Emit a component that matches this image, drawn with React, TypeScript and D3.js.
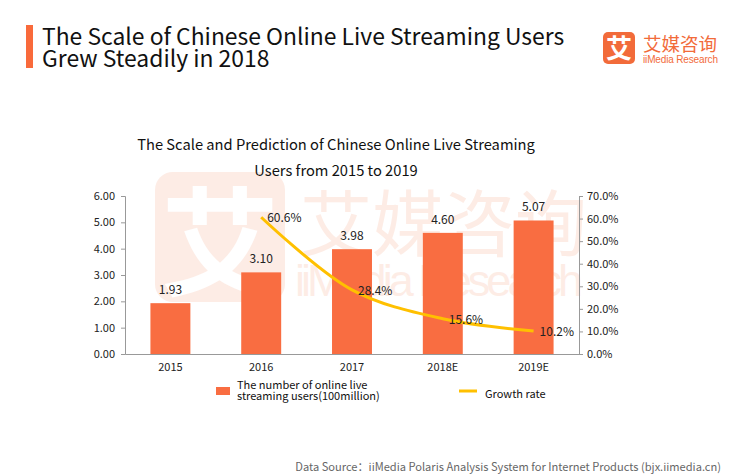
import * as d3 from "d3";
import { useEffect, useRef } from "react";

const years = ["2015", "2016", "2017", "2018E", "2019E"];
const users = [1.93, 3.10, 3.98, 4.60, 5.07];
const growth: (number | null)[] = [null, 60.6, 28.4, 15.6, 10.2];
const leftTicks = [0, 1, 2, 3, 4, 5, 6];
const rightTicks = [0, 10, 20, 30, 40, 50, 60, 70];

const W = 729, H = 475;
const margin = { top: 196, right: 150, bottom: 121, left: 125 };
const ORANGE = "#f96d41";
const YELLOW = "#ffc000";
const CJK = "'Noto Sans CJK SC', 'Noto Sans', sans-serif";

export default function App() {
    const svgRef = useRef(null);

    useEffect(() => {
        const svg = d3.select(svgRef.current);
        svg.selectAll("*").remove();

        const innerW = W - margin.left - margin.right;
        const innerH = H - margin.top - margin.bottom;

        // heading
        svg.append("rect").attr("x", 26).attr("y", 25).attr("width", 7).attr("height", 43).attr("fill", "#f96a3b");
        const head = svg.append("text").attr("font-family", CJK).attr("font-size", 22.9).attr("fill", "#111");
        head.append("tspan").attr("x", 42).attr("y", 45).text("The Scale of Chinese Online Live Streaming Users");
        head.append("tspan").attr("x", 42).attr("y", 67).text("Grew Steadily in 2018");

        // logo
        svg.append("rect").attr("x", 603).attr("y", 32).attr("width", 32).attr("height", 32).attr("rx", 5).attr("fill", "#f26b3a");
        svg.append("text").attr("x", 619).attr("y", 58).attr("text-anchor", "middle").attr("font-family", CJK)
            .attr("font-size", 26).attr("font-weight", "bold").attr("fill", "#fff").text("艾");
        svg.append("text").attr("x", 643).attr("y", 51).attr("font-family", CJK).attr("font-size", 18.5)
            .attr("fill", "#f26b3a").attr("textLength", 74).text("艾媒咨询");
        svg.append("text").attr("x", 643).attr("y", 63).attr("font-family", "'Liberation Sans', Arial, sans-serif")
            .attr("font-size", 10).attr("fill", "#f26b3a").attr("textLength", 75).text("iiMedia Research");

        // watermark
        const wm = svg.append("g").attr("opacity", 0.2);
        wm.append("rect").attr("x", 155).attr("y", 172).attr("width", 130).attr("height", 130).attr("rx", 18).attr("fill", "#f7a27f");
        wm.append("text").attr("x", 220).attr("y", 287).attr("text-anchor", "middle").attr("font-family", CJK)
            .attr("font-size", 118).attr("font-weight", "bold").attr("fill", "#fff").text("艾");
        wm.append("text").attr("x", 300).attr("y", 250).attr("font-family", CJK).attr("font-size", 72)
            .attr("fill", "#f7a27f").attr("textLength", 287).text("艾媒咨询");
        wm.append("text").attr("x", 295).attr("y", 296).attr("font-family", "'Liberation Sans', Arial, sans-serif")
            .attr("font-size", 45).attr("fill", "#f7a27f").attr("textLength", 288).text("iiMedia Research");

        // chart title
        const ct = svg.append("text").attr("font-family", CJK).attr("font-size", 14.7).attr("fill", "#111").attr("text-anchor", "middle");
        ct.append("tspan").attr("x", 336).attr("y", 150).text("The Scale and Prediction of Chinese Online Live Streaming");
        ct.append("tspan").attr("x", 336).attr("y", 176).text("Users from 2015 to 2019");

        const g = svg.append("g").attr("transform", `translate(${margin.left},${margin.top})`);

        const x = d3.scaleBand<string>().domain(years).range([0, innerW]).paddingInner(0.56).paddingOuter(0.28);
        const yL = d3.scaleLinear().domain([0, 6]).range([innerH, 0]);
        const yR = d3.scaleLinear().domain([0, 70]).range([innerH, 0]);

        // bars
        g.selectAll(".bar").data(users).join("rect")
            .attr("x", (_, i) => x(years[i])!)
            .attr("y", d => yL(d))
            .attr("width", x.bandwidth())
            .attr("height", d => innerH - yL(d))
            .attr("fill", ORANGE);

        g.selectAll(".barlab").data(users).join("text")
            .attr("x", (_, i) => x(years[i])! + x.bandwidth() / 2)
            .attr("y", d => yL(d) - 9)
            .attr("text-anchor", "middle")
            .attr("font-family", CJK).attr("font-size", 12).attr("fill", "#222")
            .text(d => d.toFixed(2));

        // axes
        const axL = g.append("g").call(d3.axisLeft(yL).tickValues(leftTicks).tickSize(4).tickFormat(d => (+d).toFixed(2)));
        const axR = g.append("g").attr("transform", `translate(${innerW},0)`)
            .call(d3.axisRight(yR).tickValues(rightTicks).tickSize(4).tickFormat(d => (+d).toFixed(1) + "%"));
        [axL, axR].forEach(a => {
            a.select(".domain").attr("stroke", "#999");
            a.selectAll(".tick line").attr("stroke", "#999");
            a.selectAll(".tick text").attr("font-family", CJK).attr("font-size", 11).attr("fill", "#222");
        });
        axL.selectAll(".tick text").attr("x", -10);
        axR.selectAll(".tick text").attr("x", 8);

        const axB = g.append("g").attr("transform", `translate(0,${innerH})`)
            .call(d3.axisBottom(x).tickSize(0).tickPadding(9));
        axB.select(".domain").attr("stroke", "#999");
        axB.selectAll(".tick text").attr("font-family", CJK).attr("font-size", 11).attr("fill", "#222");

        // growth line
        const pts = years.map((yr, i) => ({ yr, v: growth[i] })).filter(p => p.v !== null) as { yr: string, v: number }[];
        const line = d3.line<{ yr: string, v: number }>()
            .x(d => x(d.yr)! + x.bandwidth() / 2)
            .y(d => yR(d.v))
            .curve(d3.curveCatmullRom.alpha(0.5));
        g.append("path").attr("d", line(pts)).attr("fill", "none").attr("stroke", YELLOW).attr("stroke-width", 3);
        g.selectAll(".pct").data(pts).join("text")
            .attr("x", d => x(d.yr)! + x.bandwidth() / 2 + 6)
            .attr("y", d => yR(d.v) + 5)
            .attr("font-family", CJK).attr("font-size", 12).attr("fill", "#222")
            .text(d => d.v.toFixed(1) + "%");

        // legend
        svg.append("rect").attr("x", 216).attr("y", 387).attr("width", 14).attr("height", 8).attr("fill", ORANGE);
        const lt = svg.append("text").attr("font-family", CJK).attr("font-size", 11).attr("fill", "#111");
        lt.append("tspan").attr("x", 237).attr("y", 389).text("The number of online live");
        lt.append("tspan").attr("x", 237).attr("y", 400).text("streaming users(100million)");
        svg.append("line").attr("x1", 459).attr("x2", 477).attr("y1", 391).attr("y2", 391).attr("stroke", YELLOW).attr("stroke-width", 3);
        svg.append("text").attr("x", 485).attr("y", 398).attr("font-family", CJK).attr("font-size", 11).attr("fill", "#111").text("Growth rate");

        // footer
        svg.append("text").attr("x", 721).attr("y", 471).attr("text-anchor", "end").attr("font-family", CJK)
            .attr("font-size", 11.1).attr("fill", "#666").text("Data Source：iiMedia Polaris Analysis System for Internet Products (bjx.iimedia.cn)");
    }, []);

    return (
        <div style={{ position: "absolute", left: 0, top: 0 }}>
            <svg ref={svgRef} width={W} height={H} style={{ display: "block", background: "#fff" }}></svg>
        </div>
    );
}
